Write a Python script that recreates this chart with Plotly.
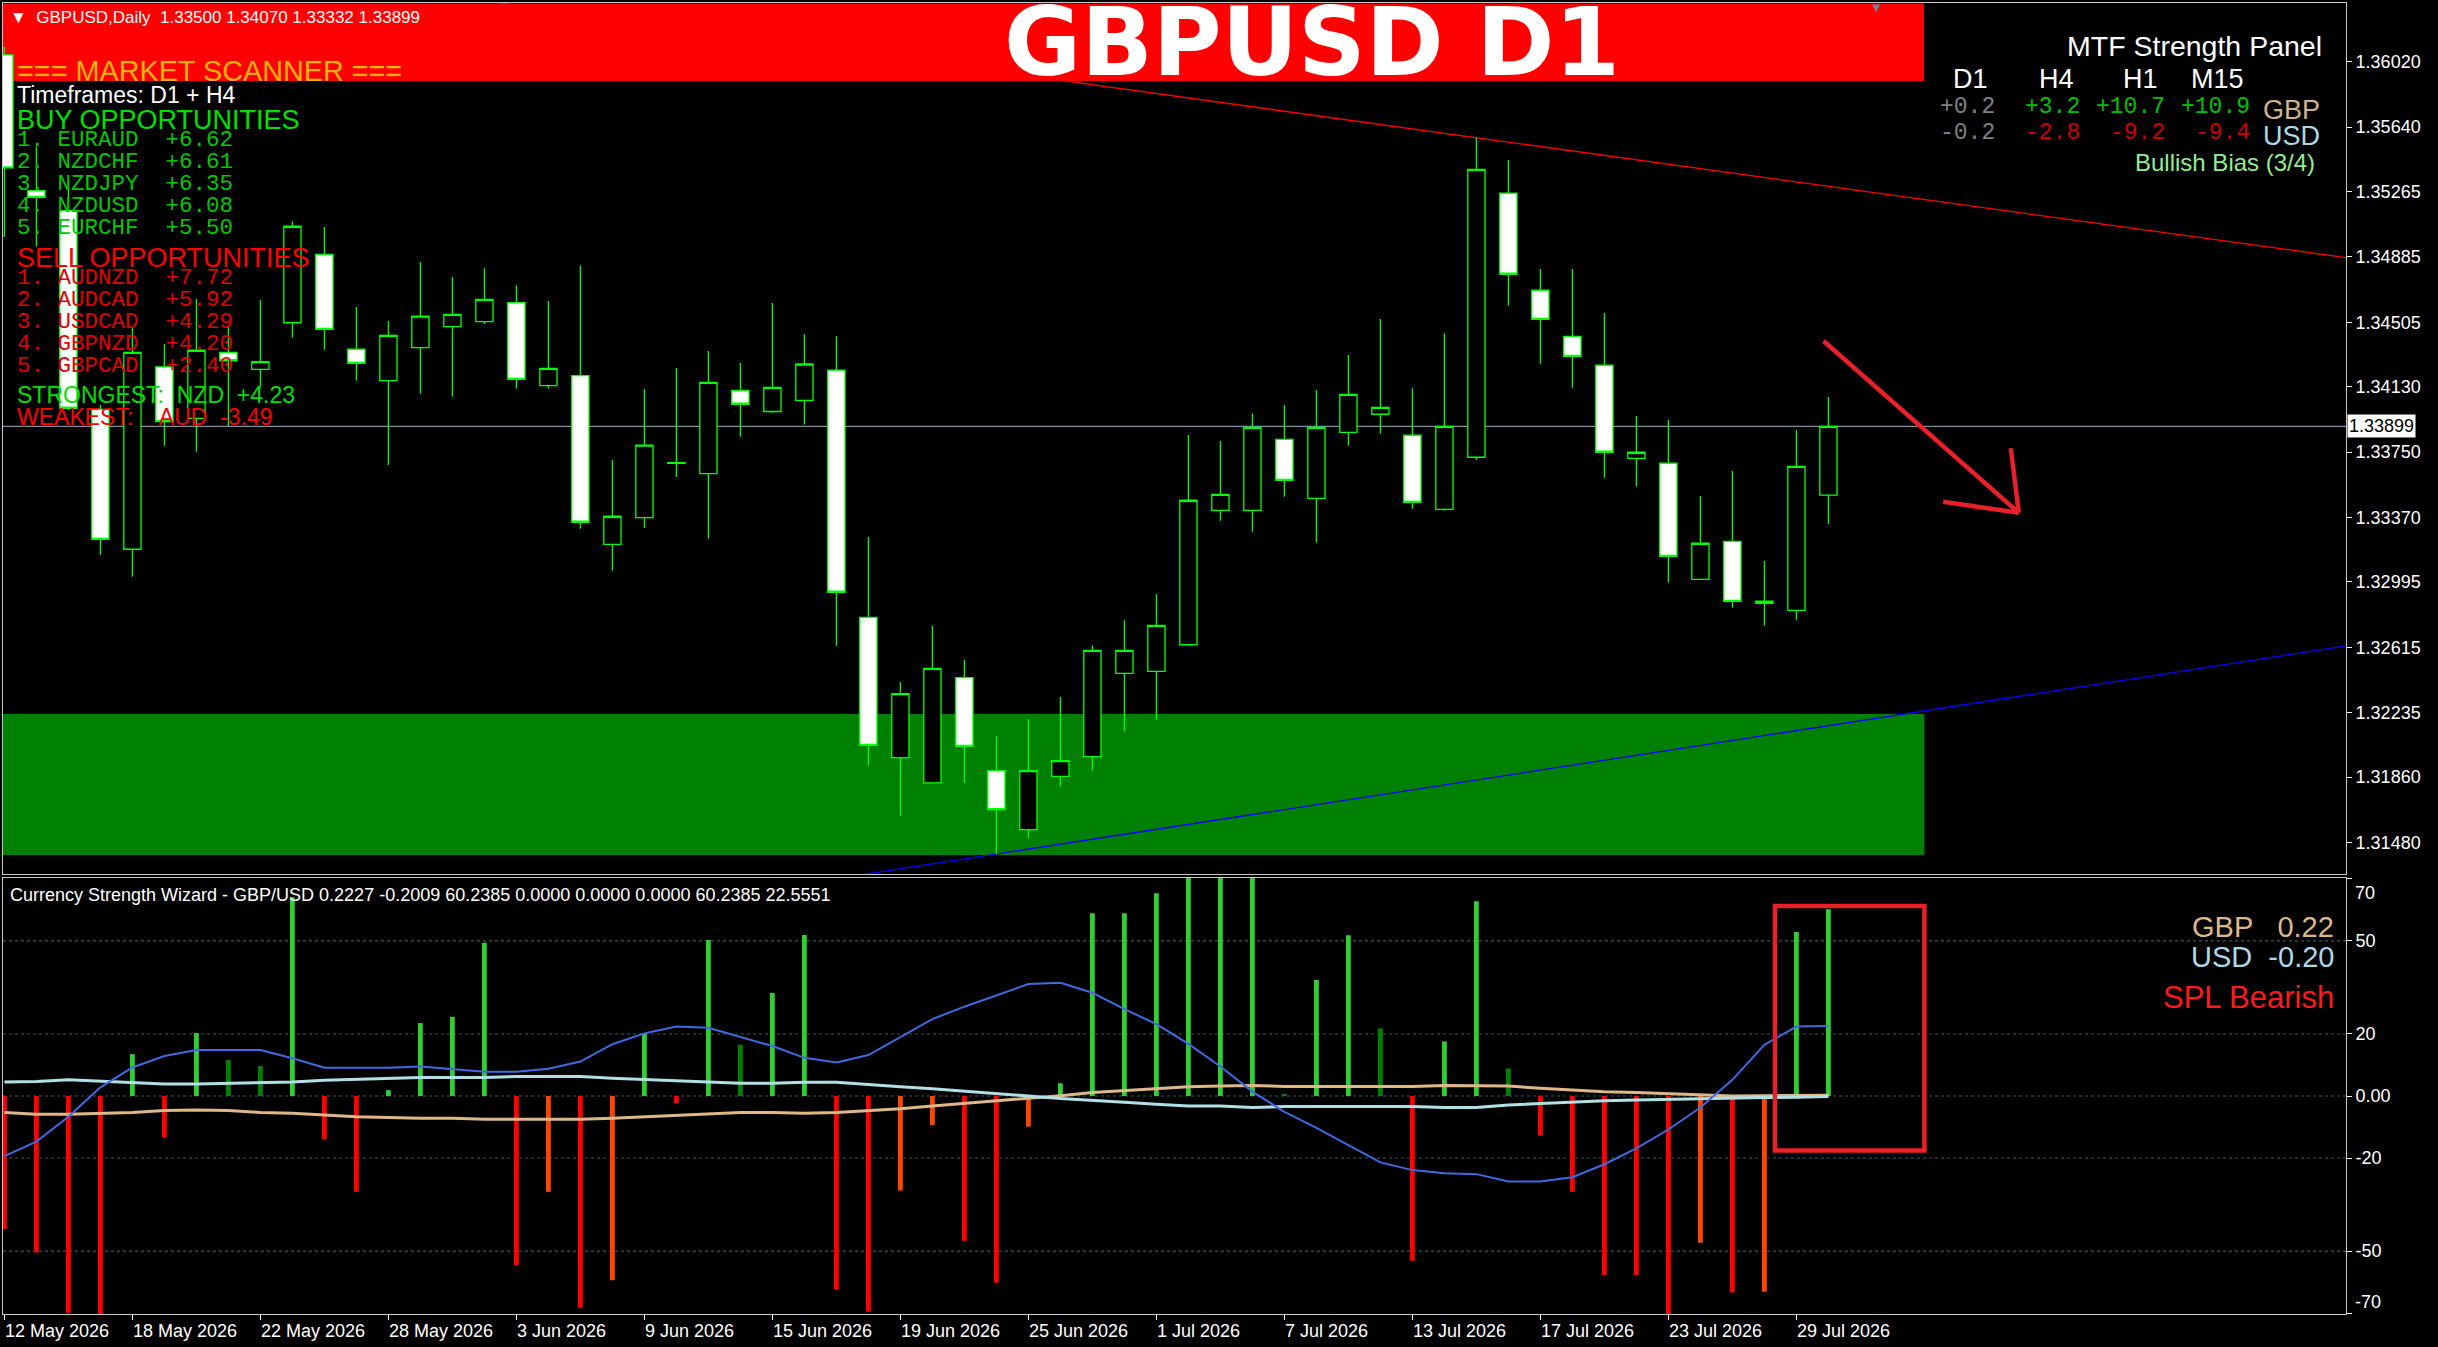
import plotly.graph_objects as go
from plotly.subplots import make_subplots
import pandas as pd

# ---------------- canvas geometry ----------------
W, H = 2438, 1347
ML, MR, MT, MB = 3, 92, 3, 33
PW = W - ML - MR
PH = H - MT - MB


def px_x(X):
    return (X - ML) / PW


def px_y(Y):
    return (H - MB - Y) / PH


SANS = "Liberation Sans, Arial, sans-serif"
MONO = "Liberation Mono, Courier New, monospace"
WIDE_BOLD = "DejaVu Sans, Liberation Sans, sans-serif"

# ---------------- data ----------------
bar_dates = pd.bdate_range("2026-05-12", periods=58)
x_idx = list(range(len(bar_dates)))

tick_labels = ["12 May 2026", "18 May 2026", "22 May 2026", "28 May 2026", "3 Jun 2026",
               "9 Jun 2026", "15 Jun 2026", "19 Jun 2026", "25 Jun 2026", "1 Jul 2026",
               "7 Jul 2026", "13 Jul 2026", "17 Jul 2026", "23 Jul 2026", "29 Jul 2026"]

open_ = [1.36059, 1.35270, 1.35154, 1.33998, 1.33185, 1.34246, 1.33946, 1.34330, 1.34231, 1.34502,
         1.34900, 1.34348, 1.34165, 1.34357, 1.34479, 1.34508, 1.34619, 1.34136, 1.34194, 1.33214,
         1.33369, 1.33685, 1.33625, 1.34108, 1.33986, 1.34050, 1.34226, 1.32789, 1.31974, 1.31827,
         1.32439, 1.31898, 1.31555, 1.31865, 1.31980, 1.32464, 1.32475, 1.32630, 1.33411, 1.33411,
         1.33824, 1.33481, 1.33865, 1.33970, 1.33848, 1.33417, 1.33720, 1.35255, 1.34691, 1.34423,
         1.34255, 1.33714, 1.33685, 1.33010, 1.33231, 1.32871, 1.32830, 1.33500]
high_ = [1.36107, 1.35526, 1.35322, 1.34024, 1.34472, 1.34378, 1.34640, 1.34477, 1.34634, 1.35092,
         1.35059, 1.34594, 1.34512, 1.34855, 1.34768, 1.34819, 1.34720, 1.34629, 1.34836, 1.33704,
         1.34117, 1.34239, 1.34338, 1.34268, 1.34617, 1.34437, 1.34424, 1.33256, 1.32412, 1.32739,
         1.32541, 1.32098, 1.32197, 1.32326, 1.32626, 1.32773, 1.32924, 1.33850, 1.33814, 1.33975,
         1.34024, 1.34111, 1.34314, 1.34524, 1.34121, 1.34441, 1.35578, 1.35448, 1.34815, 1.34815,
         1.34559, 1.33960, 1.33937, 1.33495, 1.33640, 1.33117, 1.33878, 1.34070]
low_ = [1.35001, 1.34944, 1.33995, 1.33152, 1.33025, 1.33787, 1.33752, 1.33902, 1.34130, 1.34415,
        1.34345, 1.34165, 1.33675, 1.34089, 1.34072, 1.34495, 1.34119, 1.34119, 1.33304, 1.33060,
        1.33309, 1.33605, 1.33247, 1.33839, 1.33979, 1.33910, 1.32624, 1.31929, 1.31636, 1.31823,
        1.31827, 1.31413, 1.31506, 1.31805, 1.31898, 1.32125, 1.32194, 1.32622, 1.33351, 1.33287,
        1.33490, 1.33223, 1.33787, 1.33857, 1.33421, 1.33409, 1.33704, 1.34601, 1.34264, 1.34124,
        1.33601, 1.33549, 1.32990, 1.33008, 1.32845, 1.32740, 1.32775, 1.33332]
close_ = [1.35402, 1.35231, 1.34005, 1.33243, 1.34330, 1.33927, 1.34342, 1.34281, 1.34276, 1.35063,
          1.34464, 1.34266, 1.34429, 1.34540, 1.34551, 1.34638, 1.34173, 1.34237, 1.33342, 1.33377,
          1.33790, 1.33689, 1.34155, 1.34028, 1.34126, 1.34262, 1.32935, 1.32045, 1.32346, 1.32493,
          1.32039, 1.31671, 1.31898, 1.31956, 1.32597, 1.32597, 1.32742, 1.33470, 1.33504, 1.33894,
          1.33586, 1.33894, 1.34086, 1.34010, 1.33458, 1.33900, 1.35394, 1.34784, 1.34522, 1.34307,
          1.33749, 1.33749, 1.33144, 1.33220, 1.32882, 1.32884, 1.33667, 1.33899]

price_ticks = [1.36020, 1.35640, 1.35265, 1.34885, 1.34505, 1.34130, 1.33750,
               1.33370, 1.32995, 1.32615, 1.32235, 1.31860, 1.31480]
last_price = 1.33899

# drawn objects (bar index, price)
red_tl_x = [0, 73.2]
red_tl_y = [1.36758, 1.34880]
blue_tl_x = [25, 73.2]
blue_tl_y = [1.31241, 1.32624]
zone_x = [-3, 60]
zone_y = [1.31407, 1.32227]
arrow_x = [56.85, 62.95, None, 62.70, 62.95, None, 60.59, 62.95]
arrow_y = [1.34396, 1.33397, None, 1.33772, 1.33397, None, 1.33461, 1.33397]

# Currency Strength Wizard
hist_vals = [-43.0, -50.5, -69.9, -72.0, 13.5, -13.4, 20.3, 11.6, 9.7, 64.1,
             -14.0, -30.9, 1.9, 23.5, 25.5, 49.4, -54.5, -30.9, -68.3, -59.4,
             20.3, -2.3, 50.3, 16.5, 33.2, 51.9, -62.5, -69.6, -30.5, -9.4,
             -46.7, -60.2, -9.9, 4.1, 58.9, 58.9, 65.4, 76.0, 78.0, 77.0,
             0.5, 37.4, 51.8, 21.8, -53.1, 17.6, 62.8, 8.9, -12.8, -30.9,
             -57.7, -57.7, -72.0, -47.3, -63.4, -63.1, 52.9, 60.2]
hist_kind = ["R", "R", "R", "R", "G", "R", "G", "D", "D", "G",
             "R", "R", "G", "G", "G", "G", "R", "O", "R", "O",
             "G", "R", "G", "D", "G", "G", "R", "R", "O", "O",
             "R", "R", "O", "G", "G", "G", "G", "G", "G", "G",
             "D", "G", "G", "D", "R", "G", "G", "D", "R", "R",
             "R", "R", "R", "O", "R", "O", "G", "G"]
spl_line = [-19.4, -14.7, -6.7, 2.8, 9.2, 12.9, 14.8, 14.8, 14.8, 12.2,
            9.1, 9.1, 9.1, 9.5, 8.7, 7.8, 7.8, 8.8, 11.1, 16.7,
            20.2, 22.4, 22.0, 19.1, 16.1, 12.3, 10.8, 13.2, 18.9, 24.8,
            28.8, 32.5, 36.1, 36.5, 33.3, 28.0, 23.2, 16.8, 9.5, 1.4,
            -5.1, -10.3, -15.8, -21.4, -23.9, -24.9, -25.2, -27.6, -27.6, -26.2,
            -22.0, -16.9, -10.8, -3.7, 5.2, 16.5, 22.4, 22.56]
usd_line = [4.5, 4.7, 5.2, 4.8, 4.4, 3.9, 3.9, 4.1, 4.1, 4.5,
            5.1, 5.4, 5.7, 6.0, 6.0, 6.0, 6.3, 6.3, 6.3, 5.7,
            5.4, 4.9, 4.5, 4.1, 4.1, 4.4, 4.4, 3.8, 3.0, 2.3,
            1.6, 0.9, 0.0, -0.8, -1.3, -2.0, -2.7, -3.2, -3.2, -3.7,
            -3.4, -3.4, -3.4, -3.4, -3.4, -3.7, -3.7, -2.9, -2.4, -1.8,
            -1.5, -1.3, -1.1, -0.8, -0.5, -0.5, -0.4, -0.2]
gbp_line = [-5.3, -5.9, -5.9, -5.6, -5.3, -4.7, -4.5, -4.7, -5.3, -5.6,
            -6.1, -6.7, -6.9, -7.2, -7.2, -7.5, -7.5, -7.5, -7.5, -7.2,
            -6.7, -6.1, -5.6, -5.3, -5.3, -5.6, -5.3, -4.8, -4.1, -3.2,
            -2.4, -1.5, -0.8, 0.1, 1.1, 1.7, 2.4, 3.0, 3.2, 3.4,
            3.1, 3.1, 3.1, 3.1, 3.1, 3.4, 3.4, 3.2, 2.5, 1.9,
            1.4, 1.1, 0.8, 0.4, 0.0, 0.1, 0.2, 0.22]
ind_ticks = [70, 50, 20, 0, -20, -50, -70]
ind_ticktext = ["", "50", "20", "0.00", "-20", "-50", ""]
ind_edge_labels = [("70", 893), ("-70", 1302)]
ind_grid = [50, 20, 0, -20, -50]
spl_box_x = [55.33, 60.0]
spl_box_y = [-17.6, 61.3]

buy_rows = [("1.", "EURAUD", "+6.62"), ("2.", "NZDCHF", "+6.61"), ("3.", "NZDJPY", "+6.35"),
            ("4.", "NZDUSD", "+6.08"), ("5.", "EURCHF", "+5.50")]
sell_rows = [("1.", "AUDNZD", "+7.72"), ("2.", "AUDCAD", "+5.92"), ("3.", "USDCAD", "+4.29"),
             ("4.", "GBPNZD", "+4.20"), ("5.", "GBPCAD", "+2.40")]
mtf_frames = ["D1", "H4", "H1", "M15"]
mtf_gbp = ["+0.2", "+3.2", "+10.7", "+10.9"]
mtf_usd = ["-0.2", "-2.8", "-9.2", "-9.4"]

# ---------------- styling ----------------
KIND_COLOR = {"G": "#32CD32", "D": "#008000", "R": "#FF0000", "O": "#FF4500"}
hist_colors = [KIND_COLOR[k] for k in hist_kind]
CANDLE = "#00FF00"
AXIS_LINE = "#C8C8C8"

fig = make_subplots(rows=2, cols=1, shared_xaxes=True, vertical_spacing=0.0)

fig.add_trace(go.Candlestick(
    x=x_idx, open=open_, high=high_, low=low_, close=close_,
    increasing=dict(line=dict(color=CANDLE, width=1.3), fillcolor="#000000"),
    decreasing=dict(line=dict(color=CANDLE, width=1.3), fillcolor="#FFFFFF"),
    whiskerwidth=0, showlegend=False, hoverinfo="skip"), row=1, col=1)

# drawn arrow
fig.add_trace(go.Scatter(x=arrow_x, y=arrow_y, mode="lines",
                         line=dict(color="#E8202A", width=4.5), showlegend=False,
                         hoverinfo="skip"), row=1, col=1)

fig.add_trace(go.Bar(x=x_idx, y=hist_vals, width=0.15, marker=dict(color=hist_colors, line=dict(width=0)),
                     showlegend=False, hoverinfo="skip"), row=2, col=1)
fig.add_trace(go.Scatter(x=x_idx, y=gbp_line, mode="lines", line=dict(color="#DEB887", width=3),
                         showlegend=False, hoverinfo="skip"), row=2, col=1)
fig.add_trace(go.Scatter(x=x_idx, y=usd_line, mode="lines", line=dict(color="#B0E0E6", width=3),
                         showlegend=False, hoverinfo="skip"), row=2, col=1)
fig.add_trace(go.Scatter(x=x_idx, y=spl_line, mode="lines", line=dict(color="#4169E1", width=2),
                         showlegend=False, hoverinfo="skip"), row=2, col=1)

shapes = []
# green zone
shapes.append(dict(type="rect", xref="x", yref="y", x0=zone_x[0], x1=zone_x[1], y0=zone_y[0], y1=zone_y[1],
                   fillcolor="#008000", line=dict(width=0), layer="below"))
# red trend line (under title bar)
shapes.append(dict(type="line", xref="x", yref="y", x0=red_tl_x[0], x1=red_tl_x[1], y0=red_tl_y[0], y1=red_tl_y[1],
                   line=dict(color="#FF0000", width=1.3), layer="below"))
# title bar
shapes.append(dict(type="rect", xref="paper", yref="paper", x0=px_x(3), x1=px_x(1924), y0=px_y(81), y1=px_y(3.5),
                   fillcolor="#FF0000", line=dict(width=0), layer="below"))
# blue trend line
shapes.append(dict(type="line", xref="x", yref="y", x0=blue_tl_x[0], x1=blue_tl_x[1], y0=blue_tl_y[0], y1=blue_tl_y[1],
                   line=dict(color="#0000FF", width=1.3), layer="below"))
# current price line
shapes.append(dict(type="line", xref="x domain", yref="y", x0=0, x1=1, y0=last_price, y1=last_price,
                   line=dict(color="#8090A0", width=1.2), layer="below"))
# indicator grid
for g in ind_grid:
    shapes.append(dict(type="line", xref="x2 domain", yref="y2", x0=0, x1=1, y0=g, y1=g,
                       line=dict(color="#3A5A5A", width=1.2, dash="dot"), layer="below"))
# SPL box
shapes.append(dict(type="rect", xref="x2", yref="y2", x0=spl_box_x[0], x1=spl_box_x[1], y0=spl_box_y[0], y1=spl_box_y[1],
                   line=dict(color="#E8202A", width=4.5), fillcolor="rgba(0,0,0,0)", layer="above"))

ann = []


def text(t, X, Y, size, color, xanchor="left", family=SANS, bold=False):
    ann.append(dict(xref="paper", yref="paper", x=px_x(X), y=px_y(Y), text=(f"<b>{t}</b>" if bold else t),
                    showarrow=False, xanchor=xanchor, yanchor="middle",
                    font=dict(family=family, size=size, color=color)))


NB = "\u00a0"
text("\u25BC" + NB + NB + "GBPUSD,Daily" + NB + NB + "1.33500 1.34070 1.33332 1.33899", 8, 18, 17, "#FFFFFF")
text("GBPUSD D1", 1312, 42, 94, "#FFFFFF", xanchor="center", bold=True, family=WIDE_BOLD)
text("\u25BC", 1876, 8, 13, "#708090", xanchor="center")

text("=== MARKET SCANNER ===", 15, 71, 28.8, "#FFB400")
text("Timeframes: D1 + H4", 15, 95, 23, "#FFFFFF")
text("BUY OPPORTUNITIES", 15, 120, 27, "#00E000")
for r, (n, p, v) in enumerate(buy_rows):
    text(n + NB + p + NB + NB + v, 15, 140 + 22 * r, 22.5, "#00C800", family=MONO)
text("SELL OPPORTUNITIES", 15, 258, 27, "#FF0000")
for r, (n, p, v) in enumerate(sell_rows):
    text(n + NB + p + NB + NB + v, 15, 278 + 22 * r, 22.5, "#E00000", family=MONO)
text("STRONGEST:" + NB + NB + "NZD" + NB + NB + "+4.23", 15, 395, 23, "#00E000")
text("WEAKEST:" + NB * 4 + "AUD" + NB + NB + "-3.49", 15, 417, 23, "#FF0000")

# MTF panel
text("MTF Strength Panel", 2324, 46, 28.5, "#FFFFFF", xanchor="right")
for c, f in enumerate(mtf_frames):
    text(f, [1970, 2056, 2140, 2217][c], 79, 27, "#FFFFFF", xanchor="center")
for c, v in enumerate(mtf_gbp):
    text(v, 1997 + 85 * c, 107, 23, "#808080" if c == 0 else "#00C000", xanchor="right", family=MONO)
for c, v in enumerate(mtf_usd):
    text(v, 1997 + 85 * c, 133, 23, "#808080" if c == 0 else "#CC0000", xanchor="right", family=MONO)
text("GBP", 2261, 110, 27, "#D2B48C")
text("USD", 2261, 136, 27, "#ADD8E6")
text("Bullish Bias (3/4)", 2317, 162, 24, "#90EE90", xanchor="right")

# indicator texts
text("Currency Strength Wizard - GBP/USD 0.2227 -0.2009 60.2385 0.0000 0.0000 0.0000 60.2385 22.5551",
     8, 895, 18, "#FFFFFF")
text("GBP" + NB * 3 + "0.22", 2336, 927, 29, "#DEB887", xanchor="right")
text("USD" + NB * 2 + "-0.20", 2336, 957, 29, "#ADD8E6", xanchor="right")
text("SPL Bearish", 2336, 997, 31, "#FF1A1A", xanchor="right")
for lab, Y in ind_edge_labels:
    text(lab, 2353, Y, 18, "#FFFFFF")

# current price tag
ann.append(dict(xref="paper", yref="y", x=px_x(2347), y=last_price, text="1.33899", showarrow=False,
                xanchor="left", yanchor="middle", bgcolor="#FFFFFF", borderpad=1,
                font=dict(family=SANS, size=18, color="#000000")))

# date labels (left aligned at their tick)
tick_pos = [i for i, d in enumerate(bar_dates) if f"{d.day} {d:%b %Y}" in tick_labels]
for i, lab in zip(tick_pos, tick_labels):
    ann.append(dict(xref="x2", yref="paper", x=i, y=px_y(1331), text=lab, showarrow=False,
                    xanchor="left", yanchor="middle", xshift=-1,
                    font=dict(family=SANS, size=18, color="#FFFFFF")))

x_range = [(ML - 4.4) / 32, (2346 - 4.4) / 32]

fig.update_layout(
    width=W, height=H, margin=dict(l=ML, r=MR, t=MT, b=MB, autoexpand=False),
    paper_bgcolor="#000000", plot_bgcolor="#000000",
    showlegend=False, boxgap=0.23, barmode="overlay",
    shapes=shapes, annotations=ann, hovermode=False,
)
fig.update_xaxes(range=x_range, rangeslider_visible=False, showgrid=False, zeroline=False, automargin=False,
                 showline=True, mirror=True, linecolor=AXIS_LINE, linewidth=1)
fig.update_xaxes(showticklabels=False, ticks="", row=1, col=1)
fig.update_xaxes(tickvals=tick_pos, ticktext=[""] * len(tick_pos), ticks="outside", ticklen=5,
                 tickcolor="#FFFFFF", row=2, col=1)
fig.update_layout(
    yaxis=dict(domain=[px_y(874), 1.0], range=[1.31297, 1.36361], side="right", automargin=False,
               tickvals=price_ticks, ticktext=[f"{v:.5f}" for v in price_ticks],
               ticks="outside", ticklen=5, tickcolor="#FFFFFF", showgrid=False, zeroline=False,
               showline=True, mirror=True, linecolor=AXIS_LINE,
               tickfont=dict(family=SANS, size=18, color="#FFFFFF")),
    yaxis2=dict(domain=[0.0, px_y(878)], range=[-70.3, 70.3], side="right", automargin=False,
                tickvals=ind_ticks, ticktext=ind_ticktext,
                ticks="outside", ticklen=5, tickcolor="#FFFFFF", showgrid=False, zeroline=False,
                showline=True, mirror=True, linecolor=AXIS_LINE,
                tickfont=dict(family=SANS, size=18, color="#FFFFFF")),
)

fig.write_html(
    "out.html",
    config={"displayModeBar": False},
    post_script=("document.body.style.margin='0';document.body.style.overflow='hidden';"
                 "document.documentElement.style.overflow='hidden';"),
)
